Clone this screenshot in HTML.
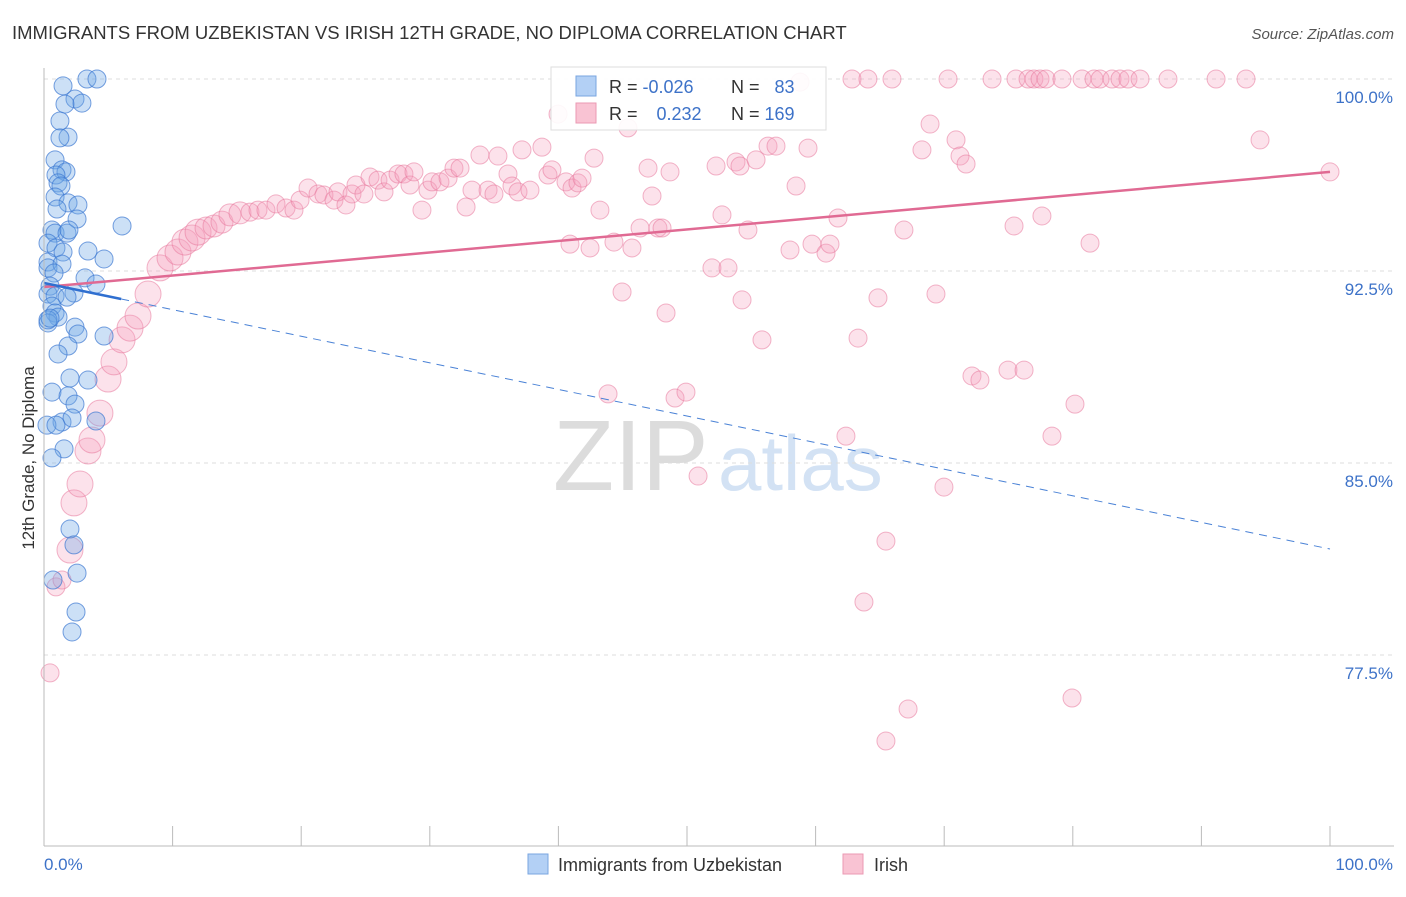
<!DOCTYPE html>
<html><head><meta charset="utf-8">
<style>
body{margin:0;background:#fff;font-family:"Liberation Sans",sans-serif;}
svg text{font-family:"Liberation Sans",sans-serif;}
</style></head>
<body>
<svg id="chart" width="1406" height="892" xmlns="http://www.w3.org/2000/svg">
<text x="12" y="39" font-size="18.5" fill="#333">IMMIGRANTS FROM UZBEKISTAN VS IRISH 12TH GRADE, NO DIPLOMA CORRELATION CHART</text>
<text x="1394" y="39" font-size="15" fill="#555" font-style="italic" text-anchor="end">Source: ZipAtlas.com</text>
<g>
<text x="553" y="490" font-size="100" fill="#dcdcdc" font-family="Liberation Serif">ZIP</text>
<text x="718" y="490" font-size="78" fill="#d3e2f4">atlas</text>
</g>
<g id="grid"></g>
<g id="marks"></g>
<g id="axes"></g>
<text transform="translate(34,458) rotate(-90)" font-size="17" fill="#333" text-anchor="middle">12th Grade, No Diploma</text>
<g>
<rect x="551" y="67" width="275" height="63" fill="#fff" fill-opacity="0.9" stroke="#ddd"/>
<rect x="576" y="76" width="20" height="20" fill="#b3d0f5" stroke="#7aa6e0"/>
<rect x="576" y="103" width="20" height="20" fill="#f9c3d3" stroke="#eb9ab3"/>
<text x="609" y="93" font-size="18" fill="#333">R = <tspan fill="#3d72c8">-0.026</tspan></text>
<text x="731" y="93" font-size="18" fill="#333">N = <tspan fill="#3d72c8" dx="10">83</tspan></text>
<text x="609" y="120" font-size="18" fill="#333">R = <tspan fill="#3d72c8" dx="14">0.232</tspan></text>
<text x="731" y="120" font-size="18" fill="#333">N = <tspan fill="#3d72c8">169</tspan></text>
</g>
<g>
<rect x="528" y="854" width="20" height="20" fill="#b3d0f5" stroke="#7aa6e0"/>
<text x="558" y="871" font-size="18" fill="#333">Immigrants from Uzbekistan</text>
<rect x="843" y="854" width="20" height="20" fill="#f9c3d3" stroke="#eb9ab3"/>
<text x="874" y="871" font-size="18" fill="#333">Irish</text>
</g>
</svg>
<script>
const yTicks=[100,92.5,85,77.5];
const yTickLabels=["100.0%","92.5%","85.0%","77.5%"];
const xTicks=[0,10,20,30,40,50,60,70,80,90,100];
const xEndLabels=["0.0%","100.0%"];
const blueX=[1.48,3.34,4.12,2.41,2.95,1.63,1.24,1.87,1.24,0.86,1.4,1.71,0.93,1.09,1.32,0.86,1.87,1.01,2.64,2.57,6.07,0.62,0.86,1.79,1.94,0.31,0.93,1.48,3.42,4.67,0.31,0.31,1.4,0.78,3.19,4.04,0.47,0.31,0.86,2.33,1.79,0.62,0.86,1.09,0.31,2.41,2.64,4.67,1.87,1.09,2.02,3.42,0.62,1.87,2.41,1.4,2.18,4.04,0.23,0.93,1.56,0.62,2.02,2.33,0.7,2.57,2.49,2.18,0.31,0.47];
const blueY=[99.73,100,100,99.22,99.06,99.02,98.36,97.73,97.7,96.84,96.45,96.37,96.25,95.94,95.82,95.39,95.16,94.92,95.08,94.53,94.26,94.1,93.98,93.98,94.1,93.59,93.4,93.24,93.28,92.97,92.85,92.62,92.77,92.42,92.23,91.99,91.91,91.6,91.52,91.64,91.48,91.13,90.86,90.7,90.47,90.31,90.04,89.96,89.57,89.26,88.32,88.24,87.77,87.62,87.3,86.6,86.76,86.64,86.48,86.48,85.55,85.2,82.42,81.8,80.43,80.7,79.18,78.4,90.59,90.66];
const pinkX=[0.47,0.93,1.4,2.02,2.33,2.8,3.42,3.73,4.35,4.98,5.44,6.07,6.69,7.31,8.09,9.02,9.8,10.42,10.96,11.51,11.98,12.6,13.22,13.84,14.46,15.24,16.02,16.64,17.26,18.04,18.82,19.44,19.91,20.53,21.31,21.77,22.55,22.86,23.48,23.95,24.26,24.88,25.35,25.97,26.44,26.91,27.53,27.99,28.46,28.77,29.39,29.86,30.17,30.79,31.42,31.88,32.35,32.82,33.28,33.9,34.53,34.99,35.3,36.08,36.39,36.86,37.17,37.79,38.72,39.19,39.5,39.97,40.59,41.06,41.52,41.84,42.77,43.23,40.9,42.46,44.32,44.95,45.41,45.72,46.35,46.97,47.28,47.74,48.06,48.68,48.37,43.86,49.07,49.92,50.86,51.94,52.26,52.72,53.19,53.81,54.12,54.28,54.74,55.37,55.83,56.3,56.92,58.01,58.48,59.41,59.72,60.81,61.12,61.74,62.36,62.83,63.3,64.07,64.85,65.47,65.94,66.87,67.19,65.47,63.76,68.27,68.9,69.36,69.98,70.3,70.92,71.23,71.7,72.16,72.78,73.72,74.96,75.43,75.58,76.21,76.52,76.98,77.45,77.92,78.38,79.16,79.94,80.17,80.72,81.34,81.65,82.12,83.05,83.67,84.29,85.23,87.4,91.14,93.47,94.56,100,58.79,77.6];
const pinkY=[76.8,80.16,80.43,81.6,83.44,84.18,85.47,85.9,86.95,88.28,88.95,89.81,90.27,90.74,91.6,92.62,93.01,93.24,93.63,93.79,94.02,94.18,94.26,94.41,94.69,94.77,94.8,94.88,94.88,95.12,94.96,94.88,95.27,95.74,95.51,95.47,95.27,95.59,95.08,95.51,95.86,95.51,96.17,96.05,95.59,96.05,96.29,96.29,95.86,96.37,94.88,95.66,95.98,95.98,96.13,96.52,96.52,95,95.66,97.03,95.66,95.51,96.99,96.29,95.82,95.59,97.23,95.66,97.34,96.25,96.45,98.63,95.98,95.74,95.94,96.13,96.91,94.88,93.55,93.4,93.63,91.68,98.09,93.4,94.18,96.52,95.43,94.18,94.18,96.37,90.86,87.7,87.54,87.77,84.49,92.62,96.6,94.69,92.62,96.76,96.6,91.37,94.1,96.84,89.81,97.38,97.38,93.32,95.82,97.3,93.55,93.2,93.55,94.57,86.05,100,89.88,100,91.45,81.95,100,94.1,75.39,74.14,79.57,97.23,98.24,91.6,84.06,100,97.62,96.99,96.68,88.4,88.24,100,88.63,94.26,100,88.63,100,100,100,100,86.05,100,75.82,87.3,100,93.59,100,100,100,100,100,100,100,100,100,97.62,96.37,99.88,94.65];
const blueTrend=[92.03,81.64];
const pinkTrend=[91.875,96.37];

const NS="http://www.w3.org/2000/svg";
const X0=44,X1=1330,YTOP=79,PXPER=25.6;
function sx(v){return X0+(X1-X0)*v/100;}
function sy(v){return YTOP+(100-v)*PXPER;}
function mk(tag,attrs,parent){const e=document.createElementNS(NS,tag);for(const k in attrs)e.setAttribute(k,attrs[k]);parent.appendChild(e);return e;}
const grid=document.getElementById('grid'),marks=document.getElementById('marks'),axes=document.getElementById('axes');
yTicks.forEach((t,i)=>{
  const l=mk('line',{x1:X0,x2:1394,y1:sy(t),y2:sy(t),stroke:'#ddd','stroke-dasharray':'4,4'},grid);
  
  
  const tx=mk('text',{x:1393,y:sy(t)+24,'font-size':17,fill:'#3d72c8','text-anchor':'end'},axes);
  tx.textContent=yTickLabels[i];
  
  
});
const ax=mk('line',{x1:X0,x2:1394,y1:846,y2:846,stroke:'#bbb'},axes);


const ay=mk('line',{x1:X0,x2:X0,y1:68,y2:846,stroke:'#bbb'},axes);


xTicks.forEach(t=>{
  const l=mk('line',{x1:sx(t),x2:sx(t),y1:826,y2:846,stroke:'#bbb'},axes);
  
  
});
const xl0=mk('text',{x:44,y:870,'font-size':17,fill:'#3d72c8'},axes);xl0.textContent=xEndLabels[0];


const xl1=mk('text',{x:1393,y:870,'font-size':17,fill:'#3d72c8','text-anchor':'end'},axes);xl1.textContent=xEndLabels[1];



pinkX.forEach((x,i)=>{
  const r=(x>2&&x<12)?13:(x<16&&x>=12?11:9);
  const c=mk('circle',{cx:sx(x),cy:sy(pinkY[i]),r:r,fill:'rgba(244,160,188,0.3)',stroke:'rgba(232,120,156,0.55)','stroke-width':1},marks);
  
  
});
blueX.forEach((x,i)=>{
  const c=mk('circle',{cx:sx(x),cy:sy(blueY[i]),r:9,fill:'rgba(110,165,230,0.35)',stroke:'rgba(60,120,210,0.7)','stroke-width':1},marks);
  
  
});
function trendY(tr,x){return tr[0]+(tr[1]-tr[0])*x/100;}
const pt=mk('line',{x1:sx(0),y1:sy(trendY(pinkTrend,0)),x2:sx(100),y2:sy(trendY(pinkTrend,100)),stroke:'#e06a93','stroke-width':2.5},marks);


const bd=mk('line',{x1:sx(6),y1:sy(trendY(blueTrend,6)),x2:sx(100),y2:sy(trendY(blueTrend,100)),stroke:'#4a82d6','stroke-width':1,'stroke-dasharray':'8,6'},marks);


const bs=mk('line',{x1:sx(0),y1:sy(trendY(blueTrend,0)),x2:sx(6),y2:sy(trendY(blueTrend,6)),stroke:'#2f6fd0','stroke-width':2.5},marks);


</script>
</body></html>
